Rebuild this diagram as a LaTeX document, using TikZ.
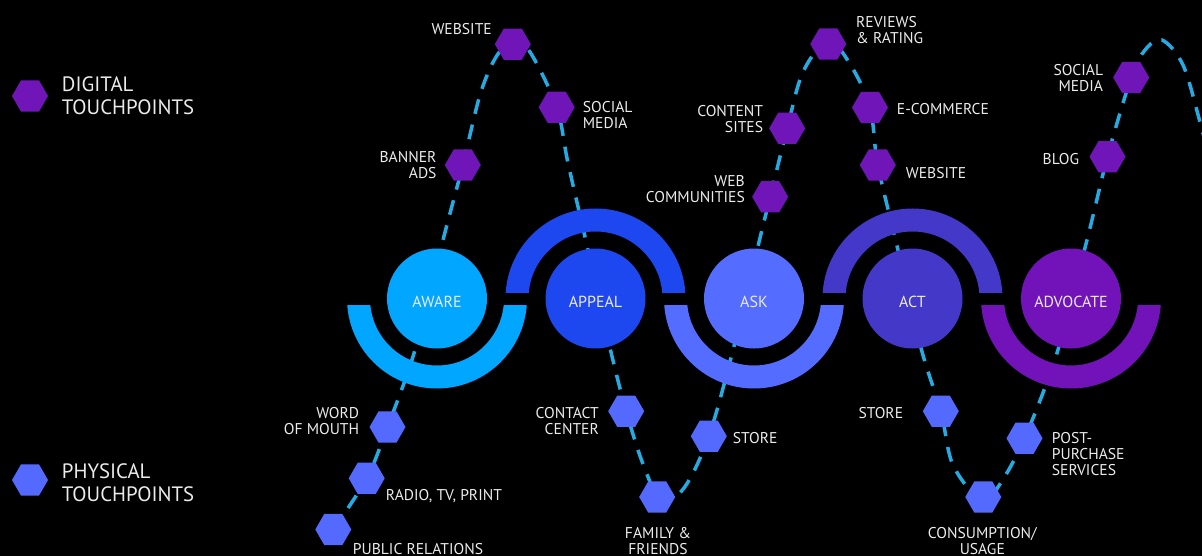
\documentclass[tikz,border=0pt]{standalone}
\usepackage{fontspec}
\setmainfont{PT Sans}
\usetikzlibrary{shapes.geometric,backgrounds}

\definecolor{awarec}{RGB}{0,166,255}
\definecolor{appealc}{RGB}{29,72,240}
\definecolor{askc}{RGB}{84,108,255}
\definecolor{actc}{RGB}{67,56,200}
\definecolor{advocatec}{RGB}{113,19,185}
\definecolor{digitalc}{RGB}{112,22,184}
\definecolor{physicalc}{RGB}{84,106,255}
\definecolor{dashc}{RGB}{38,170,226}
\definecolor{lblc}{RGB}{235,235,235}

\tikzset{
	hexa/.style={regular polygon, regular polygon sides=6, minimum size=36pt, inner sep=0pt},
	digital/.style={hexa, fill=digitalc},
	physical/.style={hexa, fill=physicalc},
	lbl/.style={text=lblc, inner sep=0pt, font=\fontsize{15.6}{16}\selectfont},
	legend/.style={text=lblc, inner sep=0pt, align=left, font=\fontsize{20.8}{23.4}\selectfont},
	stage/.style={circle, minimum size=100pt, inner sep=0pt},
	stagetxt/.style={text=lblc, inner sep=0pt, yshift=-3pt, font=\fontsize{16}{18}\selectfont},
	journey/.style={draw=dashc, line width=3.5pt, dash pattern=on 15pt off 11pt}
}

\begin{document}
\begin{tikzpicture}[x=1pt,y=-1pt]
		\useasboundingbox (0,0) rectangle (1202,556);
		% half rings round the stages
		\foreach \x/\col/\s in {437/awarec/1,595.5/appealc/-1,754/askc/1,912.5/actc/-1,1071/advocatec/1}{
			\begin{scope}
				\clip (\x-95,298.5+6.5*\s) rectangle (\x+95,298.5+95*\s);
				\fill[\col, even odd rule] (\x,298.5) circle[radius=90] (\x,298.5) circle[radius=67];
			\end{scope}
		}
		\node[stage, fill=awarec, label={[stagetxt]center:AWARE}] (aware) at (437,298.5) {};
		\node[stage, fill=appealc, label={[stagetxt]center:APPEAL}] (appeal) at (595.5,298.5) {};
		\node[stage, fill=askc, label={[stagetxt]center:ASK}] (ask) at (754,298.5) {};
		\node[stage, fill=actc, label={[stagetxt]center:ACT}] (act) at (912.5,298.5) {};
		\node[stage, fill=advocatec, label={[stagetxt]center:ADVOCATE}] (advocate) at (1071,298.5) {};

		% legend
		\node[digital] (legdig) at (30,96) {};
		\node[legend, anchor=north west] at (61.7,76) {DIGITAL\\TOUCHPOINTS};
		\node[physical] (legphy) at (30,480) {};
		\node[legend, anchor=north west] at (61.7,463.3) {PHYSICAL\\TOUCHPOINTS};

		% digital touchpoints
		\node[digital] (web1) at (512.8,44.2) {};
		\node[digital] (social1) at (556.7,107.3) {};
		\node[digital] (banner) at (462.8,165) {};
		\node[digital] (reviews) at (828.3,44) {};
		\node[digital] (ecom) at (870,107.5) {};
		\node[digital] (web2) at (877.8,165) {};
		\node[digital] (content) at (787.2,128.3) {};
		\node[digital] (webcom) at (770.2,196.8) {};
		\node[digital] (social2) at (1131.2,77.5) {};
		\node[digital] (blog) at (1107.5,156.7) {};
		% physical touchpoints
		\node[physical] (word) at (387.5,427) {};
		\node[physical] (radio) at (366.7,478.3) {};
		\node[physical] (pr) at (333.3,529.5) {};
		\node[physical] (contact) at (626.2,411.2) {};
		\node[physical] (family) at (657.2,497) {};
		\node[physical] (store1) at (708.8,436.2) {};
		\node[physical] (store2) at (940.8,411.2) {};
		\node[physical] (cons) at (983.3,497) {};
		\node[physical] (post) at (1024.5,438.3) {};

		\node[lbl, anchor=north east] at (492,23.3) {WEBSITE};
		\node[lbl, anchor=north west, align=left] at (582.7,101) {SOCIAL\\MEDIA};
		\node[lbl, anchor=north east, align=right] at (436.7,151) {BANNER\\ADS};
		\node[lbl, anchor=north west, align=left] at (856,15.7) {REVIEWS\\\& RATING};
		\node[lbl, anchor=north west] at (896.7,103.3) {E-COMMERCE};
		\node[lbl, anchor=north west] at (905.7,167.3) {WEBSITE};
		\node[lbl, anchor=north east, align=right] at (763.3,105) {CONTENT\\SITES};
		\node[lbl, anchor=north east, align=right] at (745,175) {WEB\\COMMUNITIES};
		\node[lbl, anchor=north east, align=right] at (1103.3,64.3) {SOCIAL\\MEDIA};
		\node[lbl, anchor=north east] at (1079.3,152.7) {BLOG};
		\node[lbl, anchor=north east, align=right] at (359.3,407.3) {WORD\\OF MOUTH};
		\node[lbl, anchor=north west] at (385.7,489.3) {RADIO, TV, PRINT};
		\node[lbl, anchor=north west] at (352.7,543.3) {PUBLIC RELATIONS};
		\node[lbl, anchor=north east, align=right] at (599,406.7) {CONTACT\\CENTER};
		\node[lbl, anchor=north west] at (732.7,432.3) {STORE};
		\node[lbl, anchor=north, align=center] at (658,526.7) {FAMILY \&\\FRIENDS};
		\node[lbl, anchor=north east] at (903.3,407.3) {STORE};
		\node[lbl, anchor=north, align=center] at (982.3,526.7) {CONSUMPTION/\\USAGE};
		\node[lbl, anchor=north west, align=left] at (1051.7,432.3) {POST-\\PURCHASE\\SERVICES};

		\begin{scope}[on background layer]
			\fill[black] (0,0) rectangle (1202,556);
			% the journey through all touchpoints
			\draw[journey] plot[smooth, tension=0.55] coordinates {
				(pr) (radio) (word) (415,350) (443,240) (banner) (480,95) (496,57) (513,41) (530,52)
				(social1) (568,163) (588,250) (610,348) (contact) (643,464) (661,500) (684,488)
				(store1) (733,350) (760,238) (webcom) (content) (803,72) (828,41) (850,64)
				(ecom) (web2) (898,250) (921,348) (store2) (953,465) (982,501) (1000,484)
				(post) (1057,353) (1087,240) (blog) (social2) (1145,50) (1162,40) (1183,65)
				(1200,122) (1215,180)};
		\end{scope}
\end{tikzpicture}
\end{document}
